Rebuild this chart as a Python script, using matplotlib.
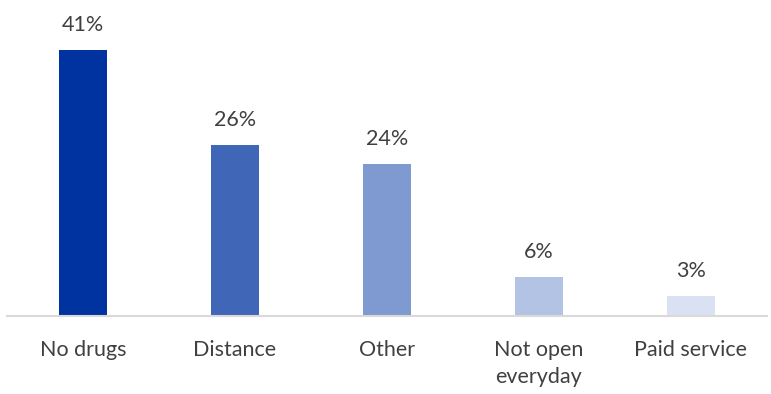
import matplotlib.pyplot as plt

categories = ["No drugs", "Distance", "Other", "Not open\neveryday", "Paid service"]
values = [41, 26.3, 23.4, 6, 3.1]
value_labels = ["41%", "26%", "24%", "6%", "3%"]
colors = ["#0033A0", "#4066B8", "#7F9AD0", "#B3C3E3", "#D9E1F2"]

plt.rcParams['font.family'] = ['Lato', 'DejaVu Sans']

fig = plt.figure(figsize=(7.71, 3.94), dpi=100)
ax = fig.add_axes([7 / 771, 1 - 316 / 394, 760 / 771, 316 / 394])

x = range(len(categories))
rects = ax.bar(x, values, width=0.32, color=colors)
ax.bar_label(rects, value_labels, padding=11, fontsize=15.5, color="#404040")

ax.set_xlim(-0.5, 4.5)
ax.set_ylim(0, 48.7)
ax.set_xticks(list(x))
ax.set_xticklabels(categories, fontsize=15.5, color="#404040", linespacing=1.45)
ax.tick_params(axis='x', length=0, pad=17)
ax.set_yticks([])
for s in ["top", "right", "left"]:
    ax.spines[s].set_visible(False)
ax.spines["bottom"].set_color("#D9D9D9")
ax.spines["bottom"].set_linewidth(1.5)

fig.savefig("out.png", dpi=100)
